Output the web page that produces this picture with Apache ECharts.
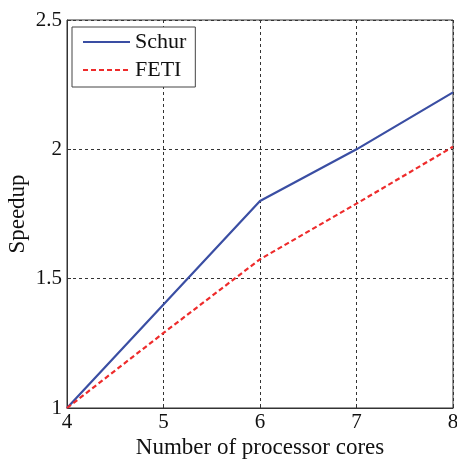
<!DOCTYPE html>
<html><head><meta charset="utf-8">
<script src="https://cdn.jsdelivr.net/npm/echarts@6/dist/echarts.min.js"></script>
<style>html,body{margin:0;padding:0;background:#fff}#c{width:457px;height:459px}</style>
</head><body><div id="c"></div>
<script>
const cores = [4, 5, 6, 7, 8];
const schur = [1.0, 1.40, 1.80, 2.0, 2.22];
const feti = [1.0, 1.29, 1.575, 1.79, 2.01];
const xTicks = [4, 5, 6, 7, 8];
const yTicks = [1, 1.5, 2, 2.5];

const font = 'Liberation Serif';
const chart = echarts.init(document.getElementById('c'));
chart.setOption({
  animation: false,
  grid: {left: 67, right: 4, top: 20, bottom: 51, show: true, borderColor: '#333', borderWidth: 1,
         containLabel: false, outerBoundsMode: 'none'},
  legend: {
    orient: 'vertical', left: 72, top: 27,
    data: ['Schur', 'FETI'],
    borderColor: '#444', borderWidth: 1, backgroundColor: '#fff',
    padding: [4, 9, 6, 10],
    itemWidth: 47, itemHeight: 12, itemGap: 6,
    itemStyle: {opacity: 0},
    textStyle: {fontFamily: font, fontSize: 22, color: '#111'}
  },
  xAxis: {
    type: 'value', min: 4, max: 8, interval: 1,
    name: 'Number of processor cores', nameLocation: 'middle', nameGap: 28, nameMoveOverlap: false,
    nameTextStyle: {fontFamily: font, fontSize: 23, color: '#111'},
    axisLine: {show: true, lineStyle: {color: '#333'}},
    axisTick: {show: true, inside: true, length: 4, lineStyle: {color: '#333'}},
    axisLabel: {fontFamily: font, fontSize: 21, color: '#111', margin: 4,
      formatter: v => xTicks.includes(v) ? String(v) : ''},
    splitLine: {show: true, lineStyle: {color: '#333', type: [3, 3], width: 1}}
  },
  yAxis: {
    type: 'value', min: 1, max: 2.5, interval: 0.5,
    name: 'Speedup', nameLocation: 'middle', nameGap: 38, nameMoveOverlap: false,
    nameTextStyle: {fontFamily: font, fontSize: 23, color: '#111'},
    axisLine: {show: true, lineStyle: {color: '#333'}},
    axisTick: {show: true, inside: true, length: 4, lineStyle: {color: '#333'}},
    axisLabel: {fontFamily: font, fontSize: 21, color: '#111', margin: 5,
      formatter: v => yTicks.includes(v) ? String(v) : ''},
    splitLine: {show: true, lineStyle: {color: '#333', type: [3, 3], width: 1}}
  },
  series: [
    {name: 'Schur', type: 'line', data: cores.map((c, i) => [c, schur[i]]),
     symbol: 'none', lineStyle: {color: '#3a4ea3', width: 2.2}, itemStyle: {color: '#3a4ea3'}},
    {name: 'FETI', type: 'line', data: cores.map((c, i) => [c, feti[i]]),
     symbol: 'none', lineStyle: {color: '#ee2b2b', width: 2.2, type: [5, 3]}, itemStyle: {color: '#ee2b2b'}}
  ]
});
</script></body></html>
